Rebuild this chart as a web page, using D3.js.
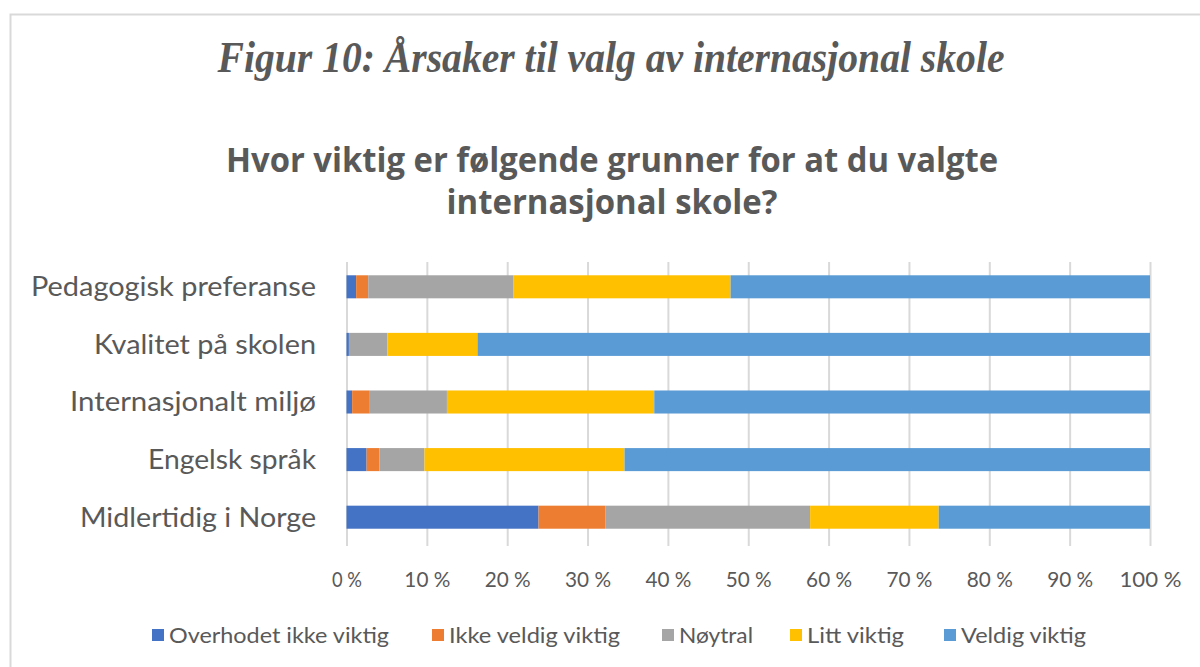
<!DOCTYPE html>
<html>
<head>
<meta charset="utf-8">
<script src="https://cdn.jsdelivr.net/npm/d3@7"></script>
<style>
    body { margin: 0; background: #fff; }
    svg { display: block; }
</style>
</head>
<body>
<svg id="chart" width="1200" height="667"></svg>
<script>

// Data (percent of answers).
const categories = ["Pedagogisk preferanse", "Kvalitet på skolen", "Internasjonalt miljø", "Engelsk språk", "Midlertidig i Norge"];
const seriesNames = ["Overhodet ikke viktig", "Ikke veldig viktig", "Nøytral", "Litt viktig", "Veldig viktig"];
const overhodetIkke = [1.2, 0.3, 0.7, 2.5, 23.9];
const ikkeVeldig    = [1.5, 0.0, 2.2, 1.6, 8.3];
const noytral       = [18.1, 4.8, 9.6, 5.6, 25.5];
const littViktig    = [27.0, 11.2, 25.8, 24.9, 16.0];
const veldigViktig  = [52.2, 83.7, 61.7, 65.4, 26.3];
const tickValues = [0, 10, 20, 30, 40, 50, 60, 70, 80, 90, 100];

const figTitle = "Figur 10: Årsaker til valg av internasjonal skole";
const chartTitle = ["Hvor viktig er følgende grunner for at du valgte", "internasjonal skole?"];

const colors = ["#4472C4", "#ED7D31", "#A5A5A5", "#FFC000", "#5B9BD5"];

// Build the table for the stack generator.
const table = categories.map((c, i) => ({
    category: c,
    [seriesNames[0]]: overhodetIkke[i],
    [seriesNames[1]]: ikkeVeldig[i],
    [seriesNames[2]]: noytral[i],
    [seriesNames[3]]: littViktig[i],
    [seriesNames[4]]: veldigViktig[i]
}));

const svg = d3.select("#chart");
const textColor = "#595959";
const bodyFont = "Lato, 'Open Sans', sans-serif";

// Outer frame of the chart area.
svg.append("rect")
    .attr("x", 10.5).attr("y", 14.5)
    .attr("width", 1200).attr("height", 700)
    .attr("fill", "none")
    .attr("stroke", "#d9d9d9")
    .attr("stroke-width", 2);

// Squeeze a text element to a target width.
function fit(sel, width) {
    sel.attr("textLength", width).attr("lengthAdjust", "spacingAndGlyphs");
}

// Figure title.
svg.append("text")
    .attr("x", 611).attr("y", 72)
    .attr("text-anchor", "middle")
    .attr("font-family", "'Liberation Serif', 'Times New Roman', serif")
    .attr("font-style", "italic")
    .attr("font-weight", "bold")
    .attr("font-size", 44)
    .attr("fill", textColor)
    .text(figTitle)
    .call(fit, 787);

// Chart title, two lines.
const titleWidths = [772, 331];
chartTitle.forEach((line, i) => {
    svg.append("text")
        .attr("x", 612).attr("y", 172 + i * 42)
        .attr("text-anchor", "middle")
        .attr("font-family", "'Open Sans', sans-serif")
        .attr("font-weight", "bold")
        .attr("font-size", 34)
        .attr("fill", textColor)
        .text(line)
        .call(fit, titleWidths[i]);
});

// Scales.
const x = d3.scaleLinear().domain([0, 100]).range([346.5, 1150]);
const y = d3.scaleBand()
    .domain(categories)
    .range([258, 546])
    .paddingInner(0.6)
    .paddingOuter(0.3);

// Gridlines.
svg.append("g")
    .attr("transform", `translate(0,${546})`)
    .call(d3.axisBottom(x).tickValues(tickValues).tickSize(-(546 - 262)).tickFormat(""))
    .call(g => g.select(".domain").remove())
    .call(g => g.selectAll("line").attr("stroke", "#d9d9d9").attr("stroke-width", 2));

// Tick labels.
svg.append("g")
    .attr("transform", `translate(0,${569})`)
    .call(d3.axisBottom(x).tickValues(tickValues).tickSize(0).tickFormat(d => d + " %"))
    .call(g => g.select(".domain").remove())
    .call(g => g.selectAll("text")
        .attr("font-family", bodyFont)
        .attr("font-size", 21)
        .attr("fill", textColor)
        .attr("textLength", d => d === 100 ? 62 : d === 0 ? 30 : 46)
        .attr("lengthAdjust", "spacingAndGlyphs"));

// Stacked bars.
const stack = d3.stack().keys(seriesNames)(table);
svg.append("g")
    .selectAll("g")
    .data(stack)
    .join("g")
        .attr("fill", (d, i) => colors[i])
    .selectAll("rect")
    .data(d => d)
    .join("rect")
        .attr("x", d => x(d[0]))
        .attr("y", d => y(d.data.category))
        .attr("width", d => x(d[1]) - x(d[0]))
        .attr("height", y.bandwidth());

// Category labels.
const labelWidths = [285, 222, 246, 168, 236];
svg.append("g")
    .selectAll("text")
    .data(categories)
    .join("text")
        .attr("x", 316)
        .attr("y", d => y(d) + y.bandwidth() / 2)
        .attr("dy", "0.36em")
        .attr("text-anchor", "end")
        .attr("font-family", bodyFont)
        .attr("font-size", 26)
        .attr("fill", textColor)
        .text(d => d)
        .each(function (d, i) { d3.select(this).call(fit, labelWidths[i]); });

// Legend.
const legendX = [152, 432, 662, 790, 944];
const legendWidths = [220, 171, 74, 97, 125];
const legend = svg.append("g")
    .selectAll("g")
    .data(seriesNames)
    .join("g")
        .attr("transform", (d, i) => `translate(${legendX[i]},${635})`);
legend.append("rect")
    .attr("x", 0).attr("y", -6)
    .attr("width", 12).attr("height", 12)
    .attr("fill", (d, i) => colors[i]);
legend.append("text")
    .attr("x", 17)
    .attr("dy", "0.36em")
    .attr("font-family", bodyFont)
    .attr("font-size", 22)
    .attr("fill", textColor)
    .text(d => d)
    .each(function (d, i) { d3.select(this).call(fit, legendWidths[i]); });

</script>
</body>
</html>
